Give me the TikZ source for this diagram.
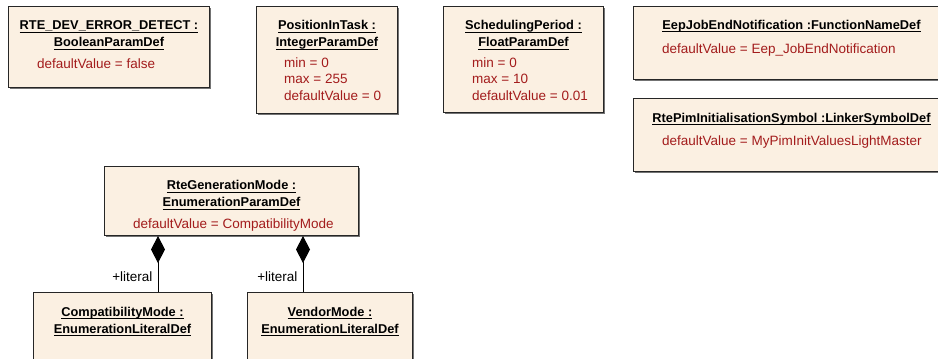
\documentclass[tikz,border=0pt]{standalone}
\usepackage{fontspec}
\setmainfont{Liberation Sans}
\usetikzlibrary{positioning,shadows,arrows.meta}

\definecolor{boxfill}{RGB}{251,240,226}
\definecolor{attrred}{RGB}{163,28,28}
\newcommand\ulname[1]{\setbox0\hbox{#1}\rlap{\rule[-3pt]{\wd0}{0.9pt}}\box0}

\tikzset{
  umlbox/.style={draw=black!85, fill=boxfill, line width=1pt, anchor=north west,
    inner sep=0, drop shadow={shadow xshift=1.2pt, shadow yshift=-1.2pt, fill=black!55, opacity=1}},
  umltitle/.style={inner sep=0, anchor=base, align=center, font=\bfseries\fontsize{12.8}{16.8}\selectfont},
  umlattr/.style={inner sep=0, anchor=base west, align=left, text=attrred, font=\fontsize{13.5}{16.5}\selectfont},
  role/.style={inner sep=0, anchor=base east, font=\fontsize{13.5}{16}\selectfont},
  comp/.style={{Diamond[length=27pt,width=14pt]}-, line width=1pt}
}

\begin{document}
\begin{tikzpicture}[x=1pt, y=-1pt]
  \useasboundingbox (0,0) rectangle (938,359);

  % parameter definitions, top row (base = last line)
  \node[umlbox, minimum width=201pt, minimum height=81pt] (err) at (8,6) {};
  \node[umltitle] (errT) at ([yshift=-40.5pt]err.north) {\ulname{RTE\_DEV\_ERROR\_DETECT :}\\\ulname{BooleanParamDef}};
  \node[umlattr] (errA) at ([xshift=29pt, yshift=-62pt]err.north west) {defaultValue = false};

  \node[umlbox, minimum width=141pt, minimum height=107pt] (pos) at (256,6) {};
  \node[umltitle] (posT) at ([yshift=-40.5pt]pos.north) {\ulname{PositionInTask :}\\\ulname{IntegerParamDef}};
  \node[umlattr] (posA) at ([xshift=28pt, yshift=-94pt]pos.north west) {min = 0\\max = 255\\defaultValue = 0};

  \node[umlbox, minimum width=160pt, minimum height=106pt] (sched) at (443,6) {};
  \node[umltitle] (schedT) at ([yshift=-40.5pt]sched.north) {\ulname{SchedulingPeriod :}\\\ulname{FloatParamDef}};
  \node[umlattr] (schedA) at ([xshift=29pt, yshift=-94pt]sched.north west) {min = 0\\max = 10\\defaultValue = 0.01};

  \node[umlbox, minimum width=316pt, minimum height=73pt] (eep) at (633,6) {};
  \node[umltitle] (eepT) at ([yshift=-23pt]eep.north) {\ulname{EepJobEndNotification :FunctionNameDef}};
  \node[umlattr] (eepA) at ([xshift=29pt, yshift=-47pt]eep.north west) {defaultValue = Eep\_JobEndNotification};

  \node[umlbox, minimum width=316pt, minimum height=73pt] (pim) at (633,98) {};
  \node[umltitle] (pimT) at ([yshift=-24pt]pim.north) {\ulname{RtePimInitialisationSymbol :LinkerSymbolDef}};
  \node[umlattr] (pimA) at ([xshift=29pt, yshift=-47pt]pim.north west) {defaultValue = MyPimInitValuesLightMaster};

  % enumeration and its literals
  \node[umlbox, minimum width=254pt, minimum height=69pt] (gen) at (104,166) {};
  \node[umltitle] (genT) at ([yshift=-40.5pt]gen.north) {\ulname{RteGenerationMode :}\\\ulname{EnumerationParamDef}};
  \node[umlattr] (genA) at ([xshift=29pt, yshift=-62pt]gen.north west) {defaultValue = CompatibilityMode};

  \node[umlbox, minimum width=178pt, minimum height=100pt] (compat) at (33,292) {};
  \node[umltitle] (compatT) at ([yshift=-41pt]compat.north) {\ulname{CompatibilityMode :}\\\ulname{EnumerationLiteralDef}};

  \node[umlbox, minimum width=165pt, minimum height=100pt] (vendor) at (247,292) {};
  \node[umltitle] (vendorT) at ([yshift=-41pt]vendor.north) {\ulname{VendorMode :}\\\ulname{EnumerationLiteralDef}};

  \coordinate (g1) at ([xshift=54pt]gen.south west);
  \coordinate (g2) at ([xshift=199pt]gen.south west);
  \draw[comp] (g1) -- (g1 |- compat.north) node[role, pos=0.82, xshift=-5pt] (lit1) {+literal};
  \draw[comp] (g2) -- (g2 |- vendor.north) node[role, pos=0.82, xshift=-5pt] (lit2) {+literal};
\end{tikzpicture}
\end{document}
